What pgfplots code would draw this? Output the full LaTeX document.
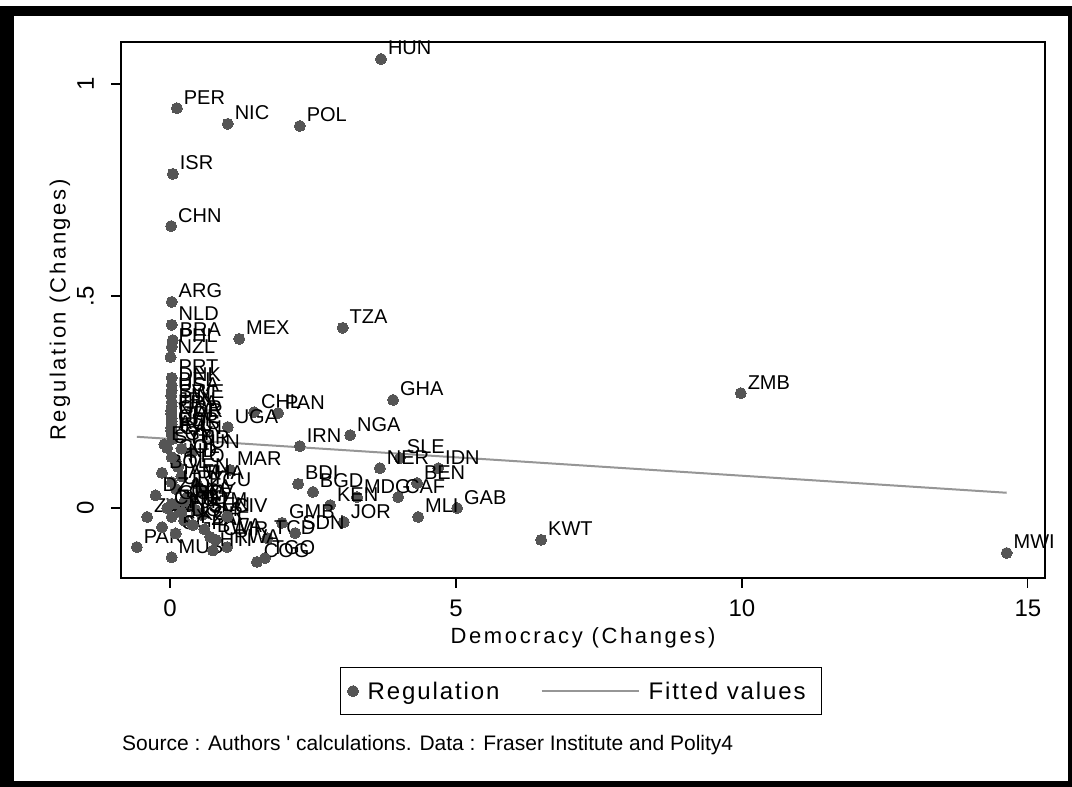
\documentclass[border=0pt]{standalone}
\usepackage{pgfplots}
\pgfplotsset{compat=1.18}
\usepackage{pgfplotstable}
\usepackage{fontspec}
\setmainfont{Liberation Sans}
\newfontfamily\spaced[LetterSpace=12]{Liberation Sans}
\newfontfamily\legspaced[LetterSpace=8]{Liberation Sans}
\newfontfamily\srcfont{Liberation Sans}
\definecolor{mk}{RGB}{85,85,85}
\definecolor{fit}{RGB}{150,150,150}
\pgfplotsset{longlegend/.style={legend image code/.code={\draw[##1] (0pt,0pt) -- (97pt,0pt);}}}

\pgfplotstableread{
name x y
HUN 3.69 1.059
PER 0.12 0.943
NIC 1.01 0.906
POL 2.27 0.901
ISR 0.05 0.788
CHN 0.02 0.665
ARG 0.03 0.486
NLD 0.03 0.432
BRA 0.05 0.396
PHL 0.03 0.380
NZL 0.01 0.356
MEX 1.21 0.399
TZA 3.02 0.425
PRT 0.03 0.307
DNK 0.03 0.290
BEL 0.03 0.278
USA 0.02 0.265
SWE 0.03 0.250
FIN 0.03 0.240
JPN 0.02 0.230
FRA 0.02 0.222
GBR 0.03 0.212
NOR 0.03 0.205
ITA 0.03 0.198
CHE 0.02 0.190
ESP 0.02 0.183
AUS 0.03 0.176
IRL 0.04 0.170
CAN 0.05 0.163
ZMB 9.98 0.271
GHA 3.90 0.255
CHL 1.47 0.226
PAN 1.89 0.224
UGA 1.01 0.191
IRN 2.27 0.146
NGA 3.15 0.172
SLE 4.02 0.118
NER 3.67 0.094
IDN 4.69 0.094
BEN 4.32 0.059
BDI 2.24 0.057
BGD 2.50 0.038
MDG 3.27 0.026
CAF 3.99 0.026
GAB 5.02 0.000
MLI 4.34 -0.021
KEN 2.80 0.007
JOR 3.04 -0.033
GMB 1.96 -0.035
TCD 1.70 -0.071
SDN 2.19 -0.059
COG 1.52 -0.127
TGO 1.66 -0.118
KWT 6.49 -0.075
MWI 14.63 -0.106
MUS 0.03 -0.116
PAK -0.58 -0.092
ZWE -0.40 -0.021
SEN 0.56 -0.017
RWA 1.00 -0.092
TUN 0.38 0.132
MAR 1.05 0.090
THA 0.47 0.057
LKA 0.30 0.026
IND 0.10 0.110
SYR -0.05 0.142
EGY -0.10 0.150
JAM 0.03 0.061
TTO 0.14 0.097
BOL -0.14 0.083
ECU 0.56 0.042
COL 0.03 0.120
VEN 0.20 0.075
URY 0.10 0.045
SLV 0.35 0.010
HND 0.15 0.000
GTM 0.45 -0.005
DOM 0.25 -0.030
PRY -0.14 -0.045
MYS 0.03 -0.021
SGP 0.10 -0.060
KOR 0.40 -0.040
ZAF 0.60 -0.050
BWA 0.70 -0.068
CMR 0.80 -0.075
CIV 1.00 -0.020
DZA -0.25 0.030
FJI 0.20 -0.010
CRI 0.25 0.015
GRC 0.03 0.010
CYP -0.05 0.000
TUR 0.20 0.140
HTI 0.75 -0.100
}\datatable

\begin{document}
\begin{tikzpicture}[x=1pt,y=1pt]
\fill[white] (0,0) rectangle (1072,787);
\fill[black] (0,0) rectangle (1072,781);
\fill[white] (14,6) rectangle (1068,771);
\begin{axis}[
  at={(121pt,209pt)}, anchor=south west,
  width=924pt, height=536pt, scale only axis, clip=false,
  xmin=-0.857, xmax=15.30, ymin=-0.165, ymax=1.099,
  xtick={0,5,10,15}, ytick={0,0.5,1}, yticklabels={0,.5,1},
  xtick pos=bottom, ytick pos=left, tick align=outside,
  major tick length=10pt,
  every tick/.style={black, line width=1.2pt},
  axis line style={line width=1.3pt},
  tick label style={font=\fontsize{24}{26}\selectfont},
  /pgf/number format/assume math mode=true,
  xticklabel style={anchor=north, inner sep=0pt}, xticklabel shift=12pt,
  yticklabel style={rotate=90, anchor=south, inner sep=0pt}, yticklabel shift=17pt,
  xlabel={Democracy (Changes)}, ylabel={Regulation (Changes)},
  label style={font=\spaced\fontsize{22}{24}\selectfont},
  xlabel style={at={(axis description cs:0.5,-0.112)}, anchor=center},
  ylabel style={at={(axis description cs:-0.066,0.5)}, anchor=center},
  legend columns=2,
  legend cell align=left,
  legend style={at={(0.498,-0.211)}, anchor=center, draw=black, line width=1.2pt,
    font=\legspaced\fontsize{24}{26}\selectfont, inner xsep=7pt, inner ysep=12pt,
    nodes={inner xsep=9pt},
    /tikz/every even column/.append style={column sep=32pt}},
]
\addplot[only marks, mark=*, mark size=5.5pt, color=mk, mark options={line width=0pt},
  point meta=explicit symbolic,
  nodes near coords={\pgfplotspointmeta},
  every node near coord/.append style={anchor=base west, inner sep=0pt, xshift=7pt, yshift=4pt,
     font=\fontsize{20}{22}\selectfont, text=black}]
  table[x=x, y=y, meta=name] {\datatable};
\addlegendentry{Regulation}
\addplot[color=fit, line width=2pt, mark=none, longlegend]
  coordinates {(-0.58,0.168) (14.63,0.036)};
\addlegendentry{Fitted values}
\end{axis}
\node[anchor=base west, font=\srcfont\fontsize{21}{23}\selectfont, inner sep=0pt] at (122,36)
  {Source : Authors \textquotesingle{} calculations. Data : Fraser Institute and Polity4};
\end{tikzpicture}
\end{document}
